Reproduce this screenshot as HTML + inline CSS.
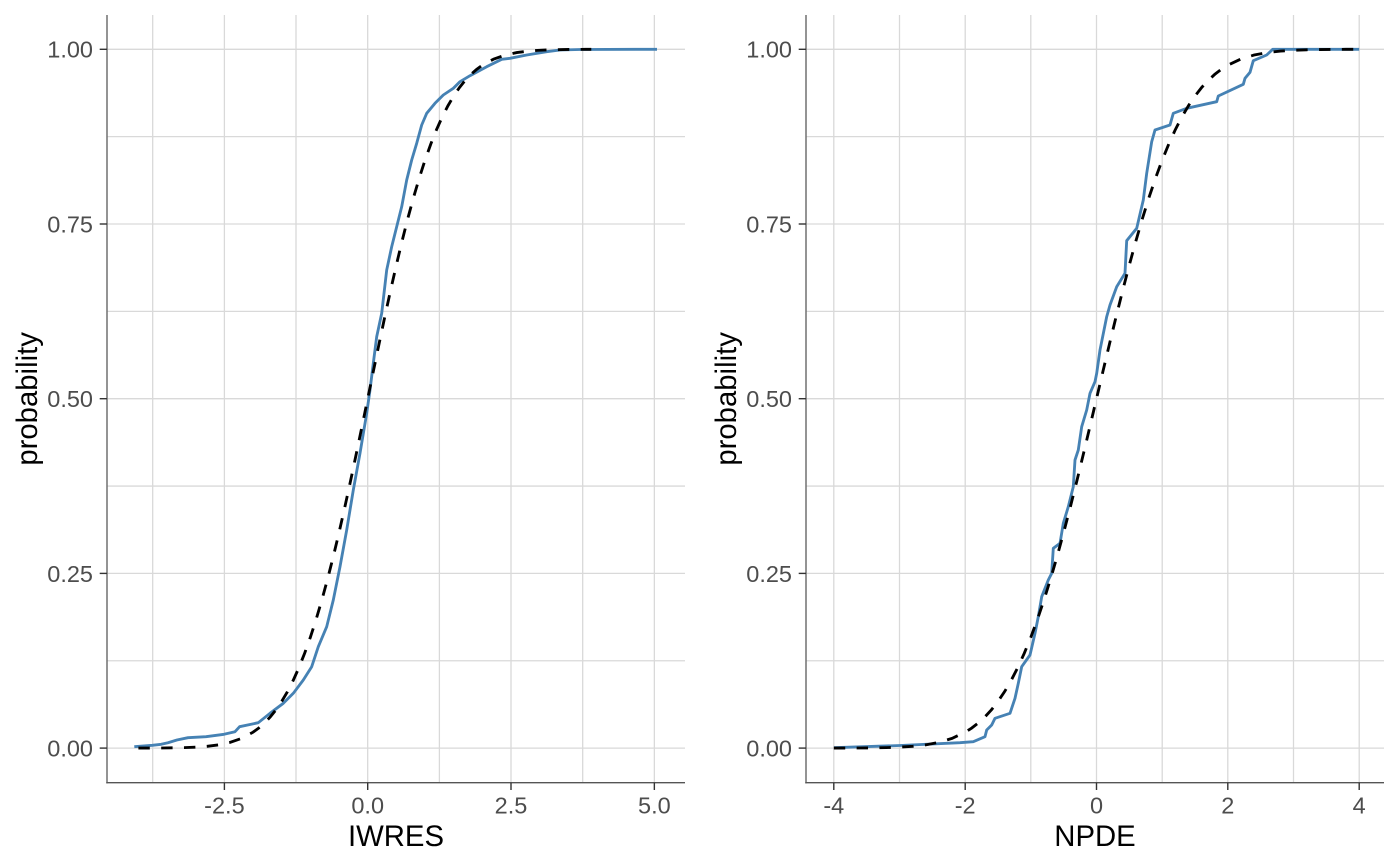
<!DOCTYPE html>
<html>
<head>
<meta charset="utf-8">
<style>
html,body{margin:0;padding:0;background:#fff;}
svg{display:block;}
text{font-family:"Liberation Sans",Arial,sans-serif;}
</style>
</head>
<body>
<svg width="1400" height="866" viewBox="0 0 1400 866" xmlns="http://www.w3.org/2000/svg">
<rect x="0" y="0" width="1400" height="866" fill="#fff"/>

<!-- ============ LEFT PANEL ============ -->
<g stroke="#d9d9d9" stroke-width="1.3" fill="none">
  <!-- horizontal grid -->
  <line x1="107" y1="49.3" x2="685" y2="49.3"/>
  <line x1="107" y1="136.65" x2="685" y2="136.65"/>
  <line x1="107" y1="224" x2="685" y2="224"/>
  <line x1="107" y1="311.35" x2="685" y2="311.35"/>
  <line x1="107" y1="398.7" x2="685" y2="398.7"/>
  <line x1="107" y1="486.05" x2="685" y2="486.05"/>
  <line x1="107" y1="573.4" x2="685" y2="573.4"/>
  <line x1="107" y1="660.75" x2="685" y2="660.75"/>
  <line x1="107" y1="748.1" x2="685" y2="748.1"/>
  <!-- vertical grid -->
  <line x1="152.7" y1="15" x2="152.7" y2="782.7"/>
  <line x1="224.4" y1="15" x2="224.4" y2="782.7"/>
  <line x1="296" y1="15" x2="296" y2="782.7"/>
  <line x1="367.7" y1="15" x2="367.7" y2="782.7"/>
  <line x1="439.4" y1="15" x2="439.4" y2="782.7"/>
  <line x1="511" y1="15" x2="511" y2="782.7"/>
  <line x1="582.7" y1="15" x2="582.7" y2="782.7"/>
  <line x1="654.35" y1="15" x2="654.35" y2="782.7"/>
</g>

<!-- blue empirical -->
<polyline fill="none" stroke="#4682b4" stroke-width="2.85" stroke-linejoin="round" points="
134.3,746.7 152.3,745.3 161.2,744.3 168,742.7 176.9,740 188,737.7 206,736.7 224,734.3 235,731.7 239.6,726.7 250,724.5 258.3,722.7 270,713.3 283.3,703.3 293.3,693.3 303.3,680 311.7,666.7 318.3,646.7 326.7,626.7 333.3,600 340,566.7 346.7,530 353.3,490 360,453.3 366.7,413.3 370,390 373.3,363.3 376.7,336.7 381.7,313.3 386.7,270 391.7,246.7 396.7,226.7 401.7,206.7 406.7,180 411.7,160 416.7,143.3 421.7,125 426.7,113.3 435,103.3 443.3,95 453.3,88.3 460,81.7 470,75.7 486.7,66.7 501.7,59.3 510,58.3 526.7,55 546.7,51.7 560,50 580,49.5 657,49.3"/>

<!-- dashed normal -->
<polyline fill="none" stroke="#000" stroke-width="2.85" stroke-dasharray="11.4 11.4" points="
138.4,748.08 149.85,748.05 161.31,747.99 172.78,747.86 184.24,747.62 195.71,747.16 207.18,746.31 218.64,744.84 230.11,742.37 241.57,738.39 253.04,732.2 258.77,728.03 264.51,723 270.24,716.95 275.97,709.81 281.71,701.41 287.44,691.67 293.17,680.46 298.9,667.69 304.64,653.29 310.37,637.23 316.1,619.48 321.84,600.05 327.57,579.02 333.3,556.46 339.04,532.5 344.77,507.31 350.5,481.1 356.23,454.09 361.97,426.54 367.7,398.7 373.43,370.86 379.17,343.31 384.9,316.3 390.63,290.09 396.37,264.9 402.1,240.94 407.83,218.38 413.56,197.35 419.3,177.92 425.03,160.17 430.76,144.11 436.5,129.71 442.23,116.94 447.96,105.73 453.7,95.99 459.43,87.59 465.16,80.45 470.89,74.4 476.63,69.37 482.36,65.2 493.83,59.01 505.29,55.03 516.76,52.56 528.22,51.09 539.69,50.24 551.16,49.78 562.62,49.54 574.09,49.41 585.55,49.35 591.29,49.33"/>

<!-- axes -->
<line x1="107" y1="15" x2="107" y2="783.4" stroke="#707070" stroke-width="1.5"/>
<line x1="106.3" y1="782.7" x2="685" y2="782.7" stroke="#555" stroke-width="1.4"/>
<g stroke="#333" stroke-width="1.4">
  <line x1="99.7" y1="49.3" x2="107" y2="49.3"/>
  <line x1="99.7" y1="224" x2="107" y2="224"/>
  <line x1="99.7" y1="398.7" x2="107" y2="398.7"/>
  <line x1="99.7" y1="573.4" x2="107" y2="573.4"/>
  <line x1="99.7" y1="748.1" x2="107" y2="748.1"/>
  <line x1="224.4" y1="782.7" x2="224.4" y2="790"/>
  <line x1="367.7" y1="782.7" x2="367.7" y2="790"/>
  <line x1="511" y1="782.7" x2="511" y2="790"/>
  <line x1="654.35" y1="782.7" x2="654.35" y2="790"/>
</g>
<g font-size="23.5" fill="#4d4d4d" text-anchor="end">
  <text x="93" y="57.7">1.00</text>
  <text x="93" y="232.4">0.75</text>
  <text x="93" y="407.1">0.50</text>
  <text x="93" y="581.8">0.25</text>
  <text x="93" y="756.5">0.00</text>
</g>
<g font-size="23.5" fill="#4d4d4d" text-anchor="middle">
  <text x="224.4" y="813.5">-2.5</text>
  <text x="367.7" y="813.5">0.0</text>
  <text x="511" y="813.5">2.5</text>
  <text x="654.35" y="813.5">5.0</text>
</g>
<text x="396" y="846" font-size="29.3" fill="#000" text-anchor="middle">IWRES</text>
<text transform="translate(37,398.9) rotate(-90)" font-size="29.3" fill="#000" text-anchor="middle">probability</text>

<!-- ============ RIGHT PANEL ============ -->
<g stroke="#d9d9d9" stroke-width="1.3" fill="none">
  <line x1="806" y1="49.3" x2="1384" y2="49.3"/>
  <line x1="806" y1="136.65" x2="1384" y2="136.65"/>
  <line x1="806" y1="224" x2="1384" y2="224"/>
  <line x1="806" y1="311.35" x2="1384" y2="311.35"/>
  <line x1="806" y1="398.7" x2="1384" y2="398.7"/>
  <line x1="806" y1="486.05" x2="1384" y2="486.05"/>
  <line x1="806" y1="573.4" x2="1384" y2="573.4"/>
  <line x1="806" y1="660.75" x2="1384" y2="660.75"/>
  <line x1="806" y1="748.1" x2="1384" y2="748.1"/>
  <line x1="833.8" y1="15" x2="833.8" y2="782.7"/>
  <line x1="899.5" y1="15" x2="899.5" y2="782.7"/>
  <line x1="965.2" y1="15" x2="965.2" y2="782.7"/>
  <line x1="1030.8" y1="15" x2="1030.8" y2="782.7"/>
  <line x1="1096.5" y1="15" x2="1096.5" y2="782.7"/>
  <line x1="1162.2" y1="15" x2="1162.2" y2="782.7"/>
  <line x1="1227.8" y1="15" x2="1227.8" y2="782.7"/>
  <line x1="1293.5" y1="15" x2="1293.5" y2="782.7"/>
  <line x1="1359.2" y1="15" x2="1359.2" y2="782.7"/>
</g>

<polyline fill="none" stroke="#4682b4" stroke-width="2.85" stroke-linejoin="round" points="
834,747.7 900,745.5 960,742.7 973.3,741.7 985,736.7 986.7,730 991.7,725 995,718.3 1010,713.3 1015,698.3 1018.3,683.3 1021.7,666.7 1030,655 1035,633.3 1038.3,616.7 1041.7,596.7 1048.3,580 1051.7,573.3 1053.3,548.3 1060,543.3 1063.3,523.3 1068.3,506.7 1073.3,486.7 1075,460 1078.3,450 1081.7,426.7 1086.7,410 1090,393.3 1095,381.7 1096.7,373.3 1100,350 1106.7,316.7 1110,305 1116.7,286.7 1125,273.3 1126.7,240.7 1136.7,228.3 1143.3,200 1146.7,173.3 1151.7,141.7 1155,130 1170,125 1173.3,113.3 1186.7,108.3 1216.7,101.7 1218.3,96 1243.3,84.3 1245,78.3 1250,72.3 1253.3,60.7 1266.7,55 1272.7,49.3 1359.2,49.3"/>

<polyline fill="none" stroke="#000" stroke-width="2.85" stroke-dasharray="11.4 11.4" points="
833.82,748.08 846.95,748.05 860.09,747.99 873.22,747.86 886.36,747.62 899.49,747.16 912.62,746.31 925.76,744.84 938.89,742.37 952.03,738.39 965.16,732.2 971.73,728.03 978.29,723 984.86,716.95 991.43,709.81 998,701.41 1004.56,691.67 1011.13,680.46 1017.7,667.69 1024.26,653.29 1030.83,637.23 1037.4,619.48 1043.96,600.05 1050.53,579.02 1057.1,556.46 1063.67,532.5 1070.23,507.31 1076.8,481.1 1083.37,454.09 1089.93,426.54 1096.5,398.7 1103.07,370.86 1109.63,343.31 1116.2,316.3 1122.77,290.09 1129.34,264.9 1135.9,240.94 1142.47,218.38 1149.04,197.35 1155.6,177.92 1162.17,160.17 1168.74,144.11 1175.3,129.71 1181.87,116.94 1188.44,105.73 1195.01,95.99 1201.57,87.59 1208.14,80.45 1214.71,74.4 1221.27,69.37 1227.84,65.2 1240.97,59.01 1254.11,55.03 1267.24,52.56 1280.38,51.09 1293.51,50.24 1306.64,49.78 1319.78,49.54 1332.91,49.41 1346.05,49.35 1359.18,49.33"/>

<line x1="806" y1="15" x2="806" y2="783.4" stroke="#707070" stroke-width="1.5"/>
<line x1="805.3" y1="782.7" x2="1384" y2="782.7" stroke="#555" stroke-width="1.4"/>
<g stroke="#333" stroke-width="1.4">
  <line x1="798.7" y1="49.3" x2="806" y2="49.3"/>
  <line x1="798.7" y1="224" x2="806" y2="224"/>
  <line x1="798.7" y1="398.7" x2="806" y2="398.7"/>
  <line x1="798.7" y1="573.4" x2="806" y2="573.4"/>
  <line x1="798.7" y1="748.1" x2="806" y2="748.1"/>
  <line x1="833.8" y1="782.7" x2="833.8" y2="790"/>
  <line x1="965.2" y1="782.7" x2="965.2" y2="790"/>
  <line x1="1096.5" y1="782.7" x2="1096.5" y2="790"/>
  <line x1="1227.8" y1="782.7" x2="1227.8" y2="790"/>
  <line x1="1359.2" y1="782.7" x2="1359.2" y2="790"/>
</g>
<g font-size="23.5" fill="#4d4d4d" text-anchor="end">
  <text x="792" y="57.7">1.00</text>
  <text x="792" y="232.4">0.75</text>
  <text x="792" y="407.1">0.50</text>
  <text x="792" y="581.8">0.25</text>
  <text x="792" y="756.5">0.00</text>
</g>
<g font-size="23.5" fill="#4d4d4d" text-anchor="middle">
  <text x="833.8" y="813.5">-4</text>
  <text x="965.2" y="813.5">-2</text>
  <text x="1096.5" y="813.5">0</text>
  <text x="1227.8" y="813.5">2</text>
  <text x="1359.2" y="813.5">4</text>
</g>
<text x="1095" y="846" font-size="29.3" fill="#000" text-anchor="middle">NPDE</text>
<text transform="translate(736,398.9) rotate(-90)" font-size="29.3" fill="#000" text-anchor="middle">probability</text>
</svg>
</body>
</html>
